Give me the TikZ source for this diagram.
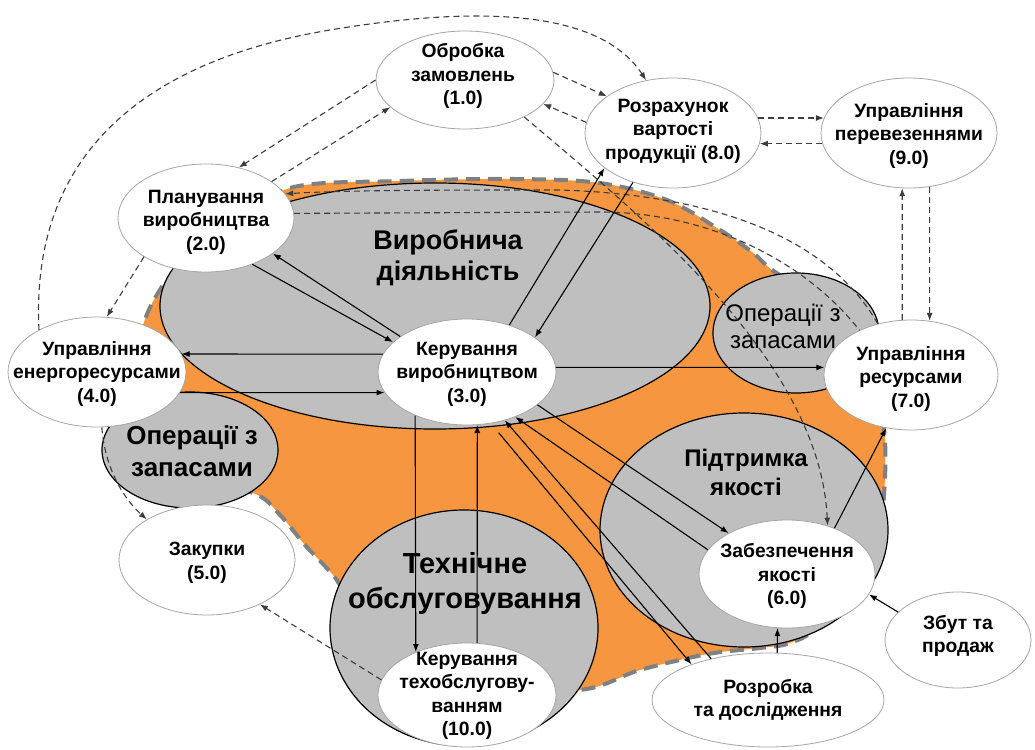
\documentclass[tikz,border=0pt]{standalone}
\usepackage{fontspec}
\setmainfont{Liberation Sans}
\usetikzlibrary{arrows.meta,shapes.geometric}
\definecolor{orng}{RGB}{247,150,64}
\definecolor{gfill}{RGB}{191,191,191}
\definecolor{gbord}{RGB}{128,128,128}
\definecolor{nbord}{RGB}{165,165,165}
\definecolor{dline}{RGB}{60,60,60}
\begin{document}
\begin{tikzpicture}[x=1pt,y=-1pt,
 sz/.style 2 args={minimum width=#1, minimum height=#2},
 wn/.style={ellipse, draw=nbord, line width=0.8pt, fill=white, inner sep=0pt},
 gn/.style={ellipse, fill=gfill, inner sep=0pt},
 go/.style={ellipse, draw=black, line width=1.2pt, inner sep=0pt},
 txt/.style={align=center, font=\bfseries\fontsize{19.3}{23.5}\selectfont, inner sep=0pt},
 sol/.style={line width=1.1pt, draw=black, -{Latex[length=8pt,width=6pt]}},
 dsh/.style={line width=1.1pt, draw=dline, dash pattern=on 6pt off 4pt, -{Latex[length=8pt,width=6pt]}},
 dshn/.style={line width=1.1pt, draw=dline, dash pattern=on 6pt off 4pt},
]
\useasboundingbox (0,0) rectangle (1035,749);
% orange region
\path[fill=orng, draw=gbord, line width=4pt, dash pattern=on 14pt off 8pt]
 plot[smooth cycle, tension=0.55] coordinates {(290,188) (400,181) (515,179) (600,183) (667,200) (717,228) (752,252) (775,272) (830,305) (868,360) (884,430) (884,495) (875,560) (820,625) (790,643) (760,648) (708,654) (640,670) (578,690) (470,680) (365,615) (333,575) (305,545) (280,515) (253,493) (180,478) (125,430) (130,370) (143,325) (155,298) (175,272) (230,230)};
% gray areas
\node[gn, sz={550pt}{246pt}] (g1) at (435,306) {};
\node[gn, sz={166pt}{120pt}] (g2) at (796,333) {};
\node[gn, sz={176pt}{116pt}] (g3) at (190,450) {};
\node[gn, sz={268pt}{236pt}] (g4) at (464,628) {};
\node[gn, sz={288pt}{234pt}] (g5) at (744,530) {};
\node[go, sz={550pt}{246pt}] (g1o) at (g1) {};
\node[go, sz={166pt}{120pt}] (g2o) at (g2) {};
\node[go, sz={176pt}{116pt}] (g3o) at (g3) {};
\node[go, sz={268pt}{236pt}] (g4o) at (g4) {};
\node[go, sz={288pt}{234pt}] (g5o) at (g5) {};
\node[align=center, font=\bfseries\fontsize{27}{31}\selectfont, inner sep=0pt] (l1) at (448,258) {Виробнича\\діяльність};
\node[align=center, font=\fontsize{24}{27}\selectfont, inner sep=0pt] (l2) at (783,326) {Операції з\\запасами};
\node[align=center, font=\bfseries\fontsize{26}{32}\selectfont, inner sep=0pt] (l3) at (192,451) {Операції з\\запасами};
\node[align=center, font=\bfseries\fontsize{29}{35}\selectfont, inner sep=0pt] (l4) at (465,583) {Технічне\\обслуговування};
\node[align=center, font=\bfseries\fontsize{24}{29}\selectfont, inner sep=0pt] (l5) at (746,472) {Підтримка\\якості};
% white nodes
\node[wn, sz={178pt}{98pt}] (n1) at (465,80) {};
\node[wn, sz={176pt}{110pt}] (n8) at (673,133) {};
\node[wn, sz={176pt}{110pt}] (n9) at (909,133) {};
\node[wn, sz={176pt}{108pt}] (n2) at (206,218) {};
\node[wn, sz={178pt}{110pt}] (n4) at (97,372) {};
\node[wn, sz={178pt}{106pt}] (n3) at (467,372) {};
\node[wn, sz={174pt}{110pt}] (n7) at (911,375) {};
\node[wn, sz={176pt}{110pt}] (n5) at (207,560) {};
\node[wn, sz={178pt}{104pt}] (n10) at (467,695) {};
\node[wn, sz={176pt}{108pt}] (n6) at (787,574) {};
\node[wn, sz={232pt}{94pt}] (rd) at (768,700) {};
\node[wn, sz={146pt}{96pt}] (sb) at (958,640) {};
\node[txt] (t1) at (463,76) {Обробка\\замовлень\\(1.0)};
\node[txt] (t8) at (673,131) {Розрахунок\\вартості\\продукції (8.0)};
\node[txt] (t9) at (909,136) {Управління\\перевезеннями\\(9.0)};
\node[txt] (t2) at (206,222) {Планування\\виробництва\\(2.0)};
\node[txt] (t4) at (97,374) {Управління\\енергоресурсами\\(4.0)};
\node[txt] (t3) at (467,374) {Керування\\виробництвом\\(3.0)};
\node[txt] (t7) at (911,379) {Управління\\ресурсами\\(7.0)};
\node[txt] (t5) at (207,563) {Закупки\\(5.0)};
\node[txt] (t10) at (467,696) {Керування\\техобслугову-\\ванням\\(10.0)};
\node[txt] (t6) at (787,576) {Забезпечення\\якості\\(6.0)};
\node[txt] (trd) at (768,700) {Розробка\\та дослідження};
\node[txt] (tsb) at (958,636) {Збут та\\продаж};
% dashed connectors
\draw[dsh] (n1.180) -- (n2.57);
\draw[dsh] (n2.29) -- (n1.200);
\draw[dsh] (n2.212) -- (n4.80);
\draw[dsh] (n4.144) .. controls (30,150) and (150,60) .. (330,30) .. controls (480,5) and (600,10) .. (n8.117);
\draw[dsh] (n1.5) -- (n8.151);
\draw[dsh] (n8.173) -- (n1.343);
\draw[dsh] (n1.328) .. controls (640,215) and (820,360) .. (n6.50);
\draw[dsh] (n7.123) .. controls (830,240) and (720,195) .. (560,190) .. controls (450,190) and (350,190) .. (n2.17);
\draw[dshn] (n2.3) -- (600,212) .. controls (700,212) and (800,255) .. (n7.139);
\draw[dsh] (n4.275) .. controls (105,470) and (125,500) .. (n5.146);
\draw[dsh] (n10.170) -- (n5.320);
\draw[dsh] (n8.10) -- (n9.170);
\draw[dsh] (n9.187) -- (n8.353);
\draw[dsh] (n7.99) -- (n9.263);
\draw[dsh] (n9.291) -- (n7.71);
% solid connectors
\draw[sol] (n3.152) -- (n2.332);
\draw[sol] (n2.315) -- (n3.158);
\draw[sol] (n3.168) -- (n4.12);
\draw[sol] (n4.346) -- (n3.194);
\draw[sol] (n3.48) -- (n8.207);
\draw[sol] (n8.231) -- (n3.27);
\draw[sol] (n3.3) -- (n7.175);
\draw[sol] (n3.220) -- (n10.140);
\draw[sol] (n10.79) -- (n3.281);
\draw[sol] (n3.335) -- (n6.145);
\draw[sol] (n6.163) -- (n3.317);
\draw[sol] (rd.144) -- (n3.308);
\draw[sol, shorten <=12pt] (n3.295) -- (rd.155);
\draw[sol] (n6.44) -- (n7.245);
\draw[sol] (rd.79) -- (n6.260);
\draw[sol] (sb.155) -- (n6.346);
\end{tikzpicture}
\end{document}
